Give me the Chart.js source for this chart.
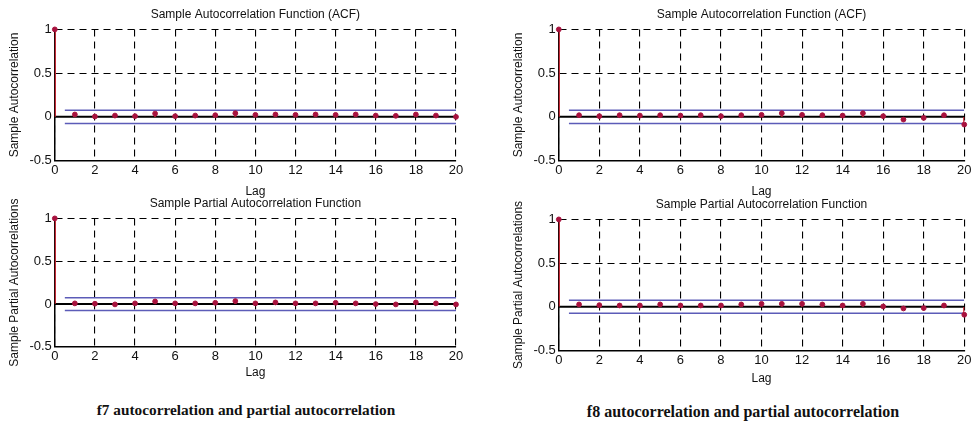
<!DOCTYPE html>
<html>
<head>
<meta charset="utf-8">
<script src="https://cdn.jsdelivr.net/npm/chart.js@4"></script>
<style>
  body { margin: 0; background: #fff; width: 971px; height: 421px; overflow: hidden; position: relative; }
  canvas { position: absolute; }
  .caption {
    position: absolute;
    font-family: 'Liberation Serif', 'Times New Roman', serif;
    font-weight: bold;
    color: #111;
    white-space: nowrap;
    transform: translate(-50%, -50%);
  }
</style>
</head>
<body>
<canvas id="f7acf" width="470" height="200" style="left:0;top:0"></canvas>
<canvas id="f7pacf" width="470" height="192" style="left:0;top:190px"></canvas>
<canvas id="f8acf" width="485" height="200" style="left:490px;top:0"></canvas>
<canvas id="f8pacf" width="485" height="196" style="left:490px;top:190px"></canvas>
<div class="caption" style="left:246px;top:410px;font-size:15.3px">f7 autocorrelation and partial autocorrelation</div>
<div class="caption" style="left:743px;top:412px;font-size:16px">f8 autocorrelation and partial autocorrelation</div>

<script>
const lags = [0, 1, 2, 3, 4, 5, 6, 7, 8, 9, 10, 11, 12, 13, 14, 15, 16, 17, 18, 19, 20];
const f7Acf = [1, 0.027, 0.004, 0.015, 0.008, 0.038, 0.008, 0.015, 0.019, 0.042, 0.023, 0.027, 0.023, 0.027, 0.023, 0.027, 0.015, 0.012, 0.027, 0.015, 0.0];
const f7Pacf = [1, 0.008, 0.004, -0.004, 0.008, 0.031, 0.008, 0.008, 0.015, 0.035, 0.008, 0.019, 0.008, 0.008, 0.015, 0.008, 0.0, -0.004, 0.019, 0.008, -0.004];
const f8Acf = [1, 0.019, 0.008, 0.019, 0.015, 0.019, 0.015, 0.019, 0.008, 0.019, 0.023, 0.042, 0.023, 0.019, 0.015, 0.042, 0.008, -0.031, -0.012, 0.019, -0.088];
const f8Pacf = [1, 0.027, 0.019, 0.015, 0.015, 0.027, 0.015, 0.015, 0.015, 0.027, 0.034, 0.034, 0.034, 0.027, 0.015, 0.034, 0.004, -0.019, -0.015, 0.015, -0.091];

// confidence bounds (+/-) and the lag range they span
const confBound = 0.075;
const boundLags = [0.5, 20];
const zeroLags = [0, 20];

const xTicks = [0, 2, 4, 6, 8, 10, 12, 14, 16, 18, 20];
const yTicks = [-0.5, 0, 0.5, 1];

Chart.defaults.font.family = "'Liberation Sans', Arial, sans-serif";
Chart.defaults.color = '#111';

function makeChart(id, title, yTitle, values, lay) {
  const points = lags.map((lag, i) => ({ x: lag, y: values[i] }));
  const ctx = document.getElementById(id).getContext('2d');
  new Chart(ctx, {
    type: 'scatter',
    data: {
      datasets: [
        {
          type: 'scatter',
          data: points,
          backgroundColor: '#a8123e',
          borderColor: '#a8123e',
          pointRadius: 2.4,
          clip: false,
          order: 0
        },
        {
          type: 'bar',
          data: points,
          backgroundColor: '#d0202e',
          barThickness: 1.5,
          order: 1
        },
        {
          type: 'line',
          data: zeroLags.map(x => ({ x: x, y: 0 })),
          borderColor: '#000',
          borderWidth: 2,
          pointRadius: 0,
          order: 2
        },
        {
          type: 'line',
          data: boundLags.map(x => ({ x: x, y: confBound })),
          borderColor: '#5c5cb8',
          borderWidth: 1.5,
          pointRadius: 0,
          order: 3
        },
        {
          type: 'line',
          data: boundLags.map(x => ({ x: x, y: -confBound })),
          borderColor: '#5c5cb8',
          borderWidth: 1.5,
          pointRadius: 0,
          order: 3
        }
      ]
    },
    options: {
      responsive: false,
      animation: false,
      layout: { padding: lay.padding },
      plugins: {
        legend: { display: false },
        tooltip: { enabled: false },
        title: {
          display: true,
          text: title,
          fullSize: false,
          font: { size: 12, weight: 'normal' },
          padding: lay.titlePad
        }
      },
      scales: {
        x: {
          type: 'linear',
          min: 0,
          max: 20,
          offset: false,
          afterBuildTicks: axis => { axis.ticks = xTicks.map(v => ({ value: v })); },
          ticks: { font: { size: 13, lineHeight: 1 }, padding: lay.xTickPad, maxRotation: 0, autoSkip: false },
          grid: { color: '#000', lineWidth: 1.1, drawTicks: false, offset: false },
          border: { display: true, color: '#000', width: 1.5, dash: [7, 5] },
          title: {
            display: true,
            text: 'Lag',
            font: { size: 12 },
            padding: lay.xTitlePad
          }
        },
        y: {
          type: 'linear',
          min: -0.5,
          max: 1,
          afterBuildTicks: axis => { axis.ticks = yTicks.map(v => ({ value: v })); },
          ticks: { font: { size: 13, lineHeight: 1 }, padding: 3, callback: value => String(value) },
          grid: { color: '#000', lineWidth: 1.1, drawTicks: false },
          border: { display: true, color: '#000', width: 1.5, dash: [7, 5] },
          title: {
            display: true,
            text: yTitle,
            font: { size: 12 },
            padding: { top: 3.5, bottom: 4.5 }
          }
        }
      }
    }
  });
}

document.addEventListener('DOMContentLoaded', function () {
  makeChart('f7acf', 'Sample Autocorrelation Function (ACF)', 'Sample Autocorrelation', f7Acf, {
    padding: { left: 4, right: 14, top: 0, bottom: 0 },
    titlePad: { top: 7.5, bottom: 7.5 },
    xTickPad: 3.5,
    xTitlePad: { top: 4, bottom: 1 }
  });
  makeChart('f7pacf', 'Sample Partial Autocorrelation Function', 'Sample Partial Autocorrelations', f7Pacf, {
    padding: { left: 4, right: 14, top: 0, bottom: 2.5 },
    titlePad: { top: 6, bottom: 8 },
    xTickPad: 3.5,
    xTitlePad: { top: -1.8, bottom: 0 }
  });
  // right-hand panels run past the window edge, so the last "20" is cut like in the source
  makeChart('f8acf', 'Sample Autocorrelation Function (ACF)', 'Sample Autocorrelation', f8Acf, {
    padding: { left: 18, right: 0, top: 0, bottom: 0 },
    titlePad: { top: 7.5, bottom: 7.5 },
    xTickPad: 3.5,
    xTitlePad: { top: 4, bottom: 1 }
  });
  makeChart('f8pacf', 'Sample Partial Autocorrelation Function', 'Sample Partial Autocorrelations', f8Pacf, {
    padding: { left: 18, right: 0, top: 0, bottom: 0.2 },
    titlePad: { top: 7.5, bottom: 7.5 },
    xTickPad: 3.5,
    xTitlePad: { top: 0.9, bottom: 0 }
  });
});
</script>
</body>
</html>
